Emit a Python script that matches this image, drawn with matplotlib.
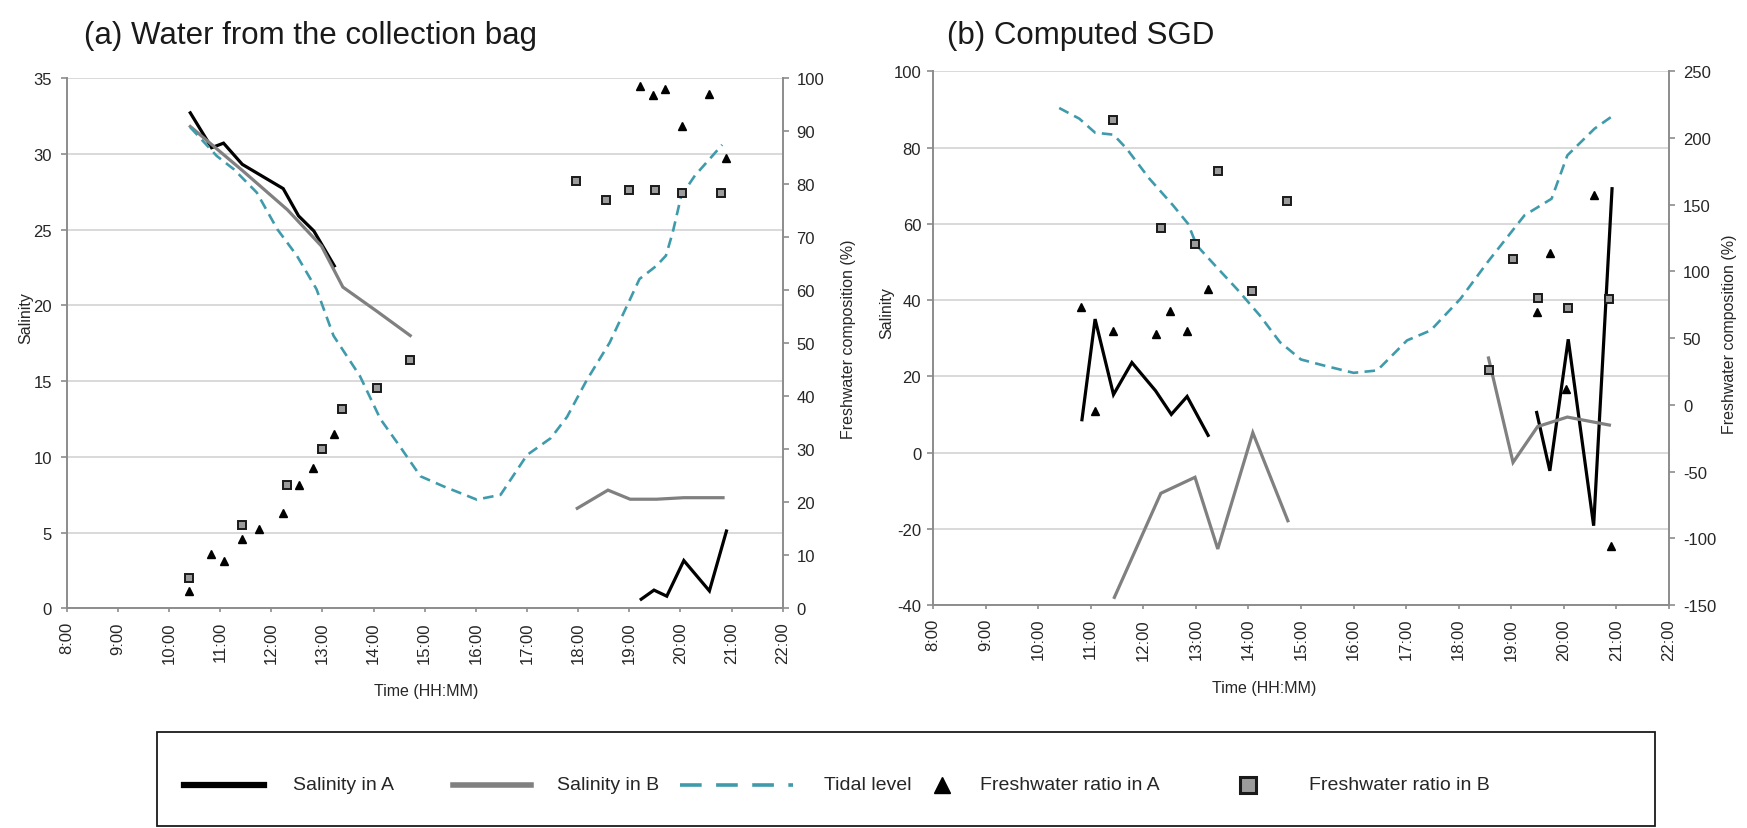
import matplotlib
matplotlib.use("Agg")
import matplotlib.pyplot as plt
from matplotlib.lines import Line2D
from matplotlib.patches import Rectangle
from matplotlib.ticker import FixedLocator, FuncFormatter

plt.rcParams['font.family'] = ['Liberation Sans', 'DejaVu Sans']
plt.rcParams['axes.unicode_minus'] = False

# ---------------- data: panel (a) Water from the collection bag ----------------
a_salA_am_t = ["10:25", "10:50", "11:04", "11:26", "11:47", "12:14", "12:32", "12:50", "13:14"]
a_salA_am_v = [32.7, 30.4, 30.7, 29.3, 28.6, 27.7, 25.9, 24.9, 22.6]
a_salA_pm_t = ["19:14", "19:29", "19:44", "20:04", "20:34", "20:54"]
a_salA_pm_v = [0.6, 1.2, 0.8, 3.15, 1.15, 5.1]

a_salB_am_t = ["10:25", "11:26", "12:19", "12:59", "13:24", "14:04", "14:43"]
a_salB_am_v = [31.8, 28.9, 26.3, 23.9, 21.2, 19.6, 18.0]
a_salB_pm_t = ["17:59", "18:35", "19:01", "19:32", "20:04", "20:50"]
a_salB_pm_v = [6.6, 7.8, 7.2, 7.2, 7.3, 7.3]

a_fwA_t = ["10:24", "10:49", "11:04", "11:26", "11:46", "12:14", "12:32", "12:49", "13:14",
           "19:13", "19:28", "19:42", "20:02", "20:33", "20:53"]
a_fwA_v = [3.2, 10.2, 8.9, 13.1, 15.0, 18.0, 23.2, 26.5, 32.8,
           98.5, 96.8, 97.9, 91.0, 97.0, 85.0]

a_fwB_t = ["10:24", "11:26", "12:19", "12:59", "13:23", "14:04", "14:43",
           "17:58", "18:33", "19:00", "19:30", "20:02", "20:48"]
a_fwB_v = [5.8, 15.8, 23.2, 30.1, 37.5, 41.5, 46.8,
           80.6, 77.0, 78.9, 78.9, 78.4, 78.4]

a_tide_t = ["10:25", "10:56", "11:16", "11:43", "12:07", "12:30", "12:53", "13:13", "13:44",
            "14:08", "14:31", "14:55", "15:22", "16:01", "16:29", "17:00", "17:28", "17:47",
            "18:10", "18:37", "19:01", "19:12", "19:32", "19:43", "19:51", "20:01", "20:17", "20:49"]
a_tide_v = [90.7, 85.3, 82.8, 78.4, 71.5, 66.5, 60.2, 51.4, 43.8,
            35.7, 30.5, 24.9, 23.0, 20.5, 21.4, 28.9, 32.1, 36.1,
            43.0, 50.1, 58.3, 62.1, 64.6, 66.5, 70.9, 77.8, 81.6, 87.4]

# ---------------- data: panel (b) Computed SGD ----------------
b_salA_am_t = ["10:50", "11:05", "11:26", "11:47", "12:14", "12:32", "12:50", "13:14"]
b_salA_am_v = [8.6, 35.0, 15.2, 23.6, 16.2, 10.0, 14.7, 4.5]
b_salA_pm_t = ["19:29", "19:44", "20:05", "20:34", "20:55"]
b_salA_pm_v = [10.5, -4.8, 29.7, -19.2, 69.2]

b_salB_am_t = ["11:27", "12:20", "12:59", "13:25", "14:05", "14:45"]
b_salB_am_v = [-38.0, -10.7, -6.5, -25.3, 5.2, -17.9]
b_salB_pm_t = ["18:34", "19:02", "19:30", "20:04", "20:52"]
b_salB_pm_v = [24.8, -2.6, 6.8, 9.3, 7.2]

b_fwA_t = ["10:49", "11:05", "11:26", "12:14", "12:31", "12:50", "13:14",
           "19:29", "19:44", "20:03", "20:34", "20:54"]
b_fwA_v = [73.3, -4.3, 55.0, 53.0, 70.7, 55.7, 87.0,
           69.5, 114.0, 12.0, 157.0, -106.0]

b_fwB_t = ["11:26", "12:20", "12:59", "13:25", "14:04", "14:44",
           "18:35", "19:02", "19:31", "20:05", "20:52"]
b_fwB_v = [213.3, 132.5, 120.3, 175.3, 85.0, 152.8,
           26.5, 109.5, 80.3, 72.5, 79.2]

b_tide_t = ["10:24", "10:47", "11:05", "11:26", "11:41", "12:07", "12:34", "12:51", "13:01",
            "13:24", "13:47", "14:13", "14:36", "15:00", "15:26", "16:00", "16:27", "17:01",
            "17:28", "18:02", "18:33", "19:15", "19:46", "20:04", "20:35", "20:54"]
b_tide_v = [222.5, 214.5, 204.0, 202.5, 192.0, 169.5, 149.5, 135.8, 119.5,
            103.0, 86.7, 67.0, 47.0, 34.0, 29.5, 24.0, 25.8, 48.3,
            55.8, 79.5, 107.0, 142.0, 154.5, 187.0, 207.0, 215.8]

hour_ticks = list(range(8, 23))

titles = ["(a) Water from the collection bag", "(b) Computed SGD"]
legend_labels = ["Salinity in A", "Salinity in B", "Tidal level",
                 "Freshwater ratio in A", "Freshwater ratio in B"]


def hrs(ts):
    out = []
    for t in ts:
        h, m = t.split(":")
        out.append(int(h) + int(m) / 60.0)
    return out


W, H = 1747, 829
fig = plt.figure(figsize=(W / 100, H / 100), dpi=100)


def fx(px):
    return px / W


def fy(py):
    return 1 - py / H


GRID = '#d9d9d9'
SPINE = '#8c8c8c'
TXT = '#262626'
BLACK = '#000000'
GRAY = '#808080'
TIDE = '#3f9bab'
SQFACE = '#9c9c9c'


def setup(ax, ax2, ylim, yticks, y2lim, y2ticks, left_pad):
    ax.set_xlim(8, 22)
    ax.xaxis.set_major_locator(FixedLocator(hour_ticks))
    ax.xaxis.set_major_formatter(FuncFormatter(lambda v, p: f"{int(round(v))}:00"))
    ax.set_ylim(*ylim)
    ax.set_yticks(yticks)
    ax2.set_ylim(*y2lim)
    ax2.set_yticks(y2ticks)
    ax.grid(axis='y', color=GRID, lw=1.4)
    ax.set_axisbelow(True)
    for s in ['top', 'right']:
        ax.spines[s].set_visible(False)
    for s in ['left', 'bottom']:
        ax.spines[s].set_color(SPINE)
        ax.spines[s].set_linewidth(1.4)
    for s in ['top', 'left', 'bottom']:
        ax2.spines[s].set_visible(False)
    ax2.spines['right'].set_color(SPINE)
    ax2.spines['right'].set_linewidth(1.4)
    ax.tick_params(axis='x', direction='out', length=3, width=1.2, color=SPINE,
                   pad=6.3, labelsize=12, labelrotation=90, labelcolor=TXT)
    ax.tick_params(axis='y', direction='out', length=4, width=1.2, color=SPINE,
                   pad=left_pad, labelsize=12, labelcolor=TXT)
    ax2.tick_params(axis='y', direction='out', length=4, width=1.2, color=SPINE,
                    pad=6, labelsize=12, labelcolor=TXT)


def draw_panel(rect, salA, salB, fwA, fwB, tide):
    ax = fig.add_axes(rect)
    ax2 = ax.twinx()
    for t, v in salA:
        ax.plot(hrs(t), v, color=BLACK, lw=2.3, solid_joinstyle='miter')
    for t, v in salB:
        ax.plot(hrs(t), v, color=GRAY, lw=2.3, solid_joinstyle='miter')
    ax2.plot(hrs(tide[0]), tide[1], color=TIDE, lw=1.9, dashes=(4.0, 2.4))
    ax2.plot(hrs(fwA[0]), fwA[1], ls='none', marker='^', ms=6, color=BLACK)
    ax2.plot(hrs(fwB[0]), fwB[1], ls='none', marker='s', ms=5.5, mfc=SQFACE,
             mec='#1a1a1a', mew=1.4)
    return ax, ax2


# panel (a)
axA, axA2 = draw_panel([fx(66.7), fy(609.3), fx(716), 530.3 / H],
                       [(a_salA_am_t, a_salA_am_v), (a_salA_pm_t, a_salA_pm_v)],
                       [(a_salB_am_t, a_salB_am_v), (a_salB_pm_t, a_salB_pm_v)],
                       (a_fwA_t, a_fwA_v), (a_fwB_t, a_fwB_v), (a_tide_t, a_tide_v))
setup(axA, axA2, (0, 35), range(0, 36, 5), (0, 100), range(0, 101, 10), 6.5)

# panel (b)
axB, axB2 = draw_panel([fx(933), fy(606), fx(736), 533.7 / H],
                       [(b_salA_am_t, b_salA_am_v), (b_salA_pm_t, b_salA_pm_v)],
                       [(b_salB_am_t, b_salB_am_v), (b_salB_pm_t, b_salB_pm_v)],
                       (b_fwA_t, b_fwA_v), (b_fwB_t, b_fwB_v), (b_tide_t, b_tide_v))
setup(axB, axB2, (-40, 100), range(-40, 101, 20), (-150, 250), range(-150, 251, 50), 4.5)

# axis labels
for ax, ax2, xl, yl, yr, xlx in [(axA, axA2, -0.047, 0.55, 1.081, 0.502),
                                  (axB, axB2, -0.052, 0.549, 1.072, 0.45)]:
    ax.set_xlabel("Time (HH:MM)", fontsize=11.5, color=TXT)
    ax.xaxis.set_label_coords(xlx, -0.141)
    ax.set_ylabel("Salinity", fontsize=11.5, color=TXT)
    ax.yaxis.set_label_coords(xl, yl)
    ax2.set_ylabel("Freshwater composition (%)", fontsize=11.5, color=TXT)
    ax2.yaxis.set_label_coords(yr, 0.51)

# titles
fig.text(fx(84), fy(36), titles[0], fontsize=22.5, va='center', ha='left', color='#1a1a1a')
fig.text(fx(947), fy(36), titles[1], fontsize=22.5, va='center', ha='left', color='#1a1a1a')

# legend (drawn manually to mirror the reference layout)
ly = fy(786)
fig.add_artist(Rectangle((fx(157), fy(827)), fx(1655) - fx(157), fy(733) - fy(827),
                         transform=fig.transFigure, fill=False, ec='#1a1a1a', lw=1.3))
fig.add_artist(Line2D([fx(184), fx(264)], [ly, ly], color=BLACK, lw=4.5,
                      transform=fig.transFigure))
fig.add_artist(Line2D([fx(453), fx(531)], [ly, ly], color=GRAY, lw=4.0,
                      transform=fig.transFigure))
fig.add_artist(Line2D([fx(680), fx(793)], [ly, ly], color=TIDE, lw=2.6, dashes=(6, 4),
                      transform=fig.transFigure))
fig.add_artist(Line2D([fx(942)], [ly], ls='none', marker='^', ms=11, color=BLACK,
                      transform=fig.transFigure))
fig.add_artist(Line2D([fx(1248)], [ly], ls='none', marker='s', ms=11, mfc=SQFACE,
                      mec='#1a1a1a', mew=2.2, transform=fig.transFigure))
for x, lab in zip([293, 557, 824, 980, 1309], legend_labels):
    fig.text(fx(x), ly, lab, fontsize=14, va='center', ha='left', color=TXT)

fig.savefig("out.png", dpi=100)
